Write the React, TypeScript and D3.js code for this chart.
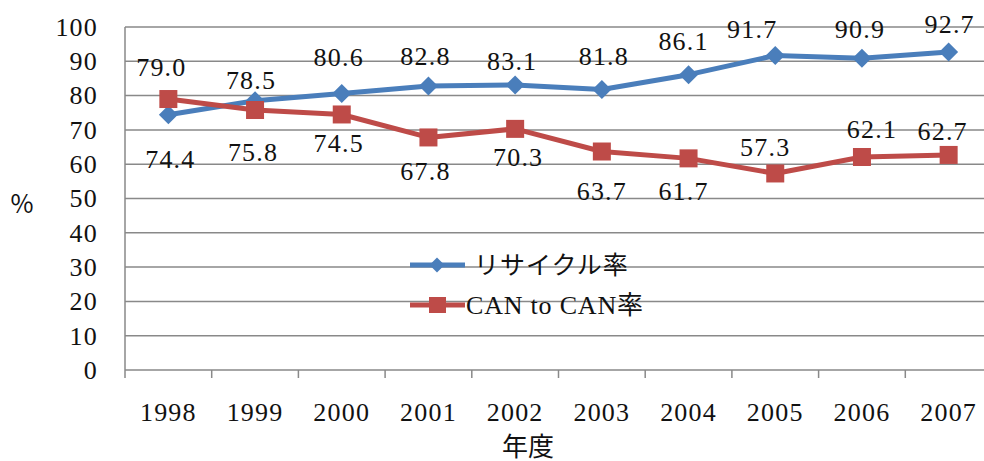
import React from "react";
import * as d3 from "d3";

// Fiscal years on the category axis
const years = ["1998", "1999", "2000", "2001", "2002", "2003", "2004", "2005", "2006", "2007"];
// Recycling rate (%)
const recycleRate = [74.4, 78.5, 80.6, 82.8, 83.1, 81.8, 86.1, 91.7, 90.9, 92.7];
// CAN to CAN rate (%)
const canToCanRate = [79.0, 75.8, 74.5, 67.8, 70.3, 63.7, 61.7, 57.3, 62.1, 62.7];
// Value axis ticks
const yTicks = [0, 10, 20, 30, 40, 50, 60, 70, 80, 90, 100];
const seriesNames = ["リサイクル率", "CAN to CAN率"];

// Label placement (pixel offsets from each marker)
const recycleLabelDx = [2, -4, -3, -3, -3, 2, -5, -23, -2, 1];
const recycleLabelDy = [44, -21, -36, -30, -24, -33, -34, -26, -29, -28];
const canLabelDx = [-7, -2, -3, -3, 3, 0, -5, -10, 10, -6];
const canLabelDy = [-32, 42, 29, 34, 28, 40, 33, -26, -28, -24];

const W = 984;
const H = 461;
const plot = { left: 125, right: 992, top: 27, bottom: 370 };

const BLUE = "#4A7EBB";
const RED = "#BE4B48";
const GRID = "#898989";
const LATIN = "Liberation Serif, Times New Roman, serif";
const CJK = "Noto Sans CJK JP, sans-serif";

export default function App() {
  const x = d3.scaleBand<string>().domain(years).range([plot.left, plot.right]).padding(0);
  const cx = (yr: string) => (x(yr) as number) + x.bandwidth() / 2;
  const y = d3.scaleLinear().domain([0, 100]).range([plot.bottom, plot.top]);

  const line = d3
    .line<number>()
    .x((_, i) => cx(years[i]))
    .y((v) => y(v));

  const diamond = (px: number, py: number, r: number) =>
    `M${px},${py - r}L${px + r},${py}L${px},${py + r}L${px - r},${py}Z`;

  const fontSize = 26;
  const spacing = 1.2;

  return (
    <svg
      width={W}
      height={H}
      style={{ position: "absolute", left: 0, top: 0, background: "#fff" }}
    >
      <rect x={0} y={0} width={W} height={H} fill="#fff" />

      {/* horizontal gridlines */}
      {yTicks.map((t) => (
        <line
          key={"g" + t}
          x1={plot.left}
          x2={plot.right}
          y1={y(t)}
          y2={y(t)}
          stroke={GRID}
          strokeWidth={1.5}
        />
      ))}
      {/* value axis line */}
      <line x1={plot.left} x2={plot.left} y1={plot.top} y2={plot.bottom + 8} stroke={GRID} strokeWidth={1.5} />
      {/* category tick marks */}
      {years.map((yr) => (
        <line
          key={"t" + yr}
          x1={(x(yr) as number) + x.bandwidth()}
          x2={(x(yr) as number) + x.bandwidth()}
          y1={plot.bottom}
          y2={plot.bottom + 8}
          stroke={GRID}
          strokeWidth={1.5}
        />
      ))}

      {/* y tick labels */}
      {yTicks.map((t) => (
        <text
          key={"yl" + t}
          x={98}
          y={y(t)}
          dy="0.34em"
          textAnchor="end"
          fontFamily={LATIN}
          fontSize={fontSize}
          letterSpacing={spacing}
          fill="#111"
        >
          {t}
        </text>
      ))}
      <text x={22} y={204} dy="0.35em" textAnchor="middle" fontFamily={CJK} fontSize={25} fill="#111">
        %
      </text>

      {/* x tick labels */}
      {years.map((yr) => (
        <text
          key={"xl" + yr}
          x={cx(yr)}
          y={421}
          textAnchor="middle"
          fontFamily={LATIN}
          fontSize={fontSize}
          letterSpacing={spacing}
          fill="#111"
        >
          {yr}
        </text>
      ))}
      <text x={528} y={456} textAnchor="middle" fontFamily={CJK} fontSize={26} fill="#111">
        年度
      </text>

      {/* series lines */}
      <path d={line(recycleRate) || ""} fill="none" stroke={BLUE} strokeWidth={5} strokeLinejoin="round" />
      <path d={line(canToCanRate) || ""} fill="none" stroke={RED} strokeWidth={5} strokeLinejoin="round" />

      {/* markers */}
      {recycleRate.map((v, i) => (
        <path key={"d" + i} d={diamond(cx(years[i]), y(v), 9.5)} fill={BLUE} />
      ))}
      {canToCanRate.map((v, i) => (
        <rect key={"s" + i} x={cx(years[i]) - 9} y={y(v) - 9} width={18} height={18} fill={RED} />
      ))}

      {/* data labels */}
      {recycleRate.map((v, i) => (
        <text
          key={"rl" + i}
          x={cx(years[i]) + recycleLabelDx[i]}
          y={y(v) + recycleLabelDy[i]}
          dy="0.34em"
          textAnchor="middle"
          fontFamily={LATIN}
          fontSize={fontSize}
          letterSpacing={spacing}
          fill="#111"
        >
          {v.toFixed(1)}
        </text>
      ))}
      {canToCanRate.map((v, i) => (
        <text
          key={"cl" + i}
          x={cx(years[i]) + canLabelDx[i]}
          y={y(v) + canLabelDy[i]}
          dy="0.34em"
          textAnchor="middle"
          fontFamily={LATIN}
          fontSize={fontSize}
          letterSpacing={spacing}
          fill="#111"
        >
          {v.toFixed(1)}
        </text>
      ))}

      {/* legend */}
      <g>
        <line x1={410} x2={465} y1={265} y2={265} stroke={BLUE} strokeWidth={5} />
        <path d={diamond(437, 265, 7.5)} fill={BLUE} />
        <text x={474} y={265} dy="0.36em" fontFamily={CJK} fontSize={25} fill="#111" letterSpacing={1}>
          {seriesNames[0]}
        </text>
        <line x1={410} x2={465} y1={305} y2={305} stroke={RED} strokeWidth={5} />
        <rect x={429} y={297} width={17} height={16} fill={RED} />
        <text x={466} y={305} dy="0.34em" fontFamily={`Liberation Serif, ${CJK}`} fontSize={26} fill="#111" letterSpacing={0.8}>
          {seriesNames[1]}
        </text>
      </g>
    </svg>
  );
}
